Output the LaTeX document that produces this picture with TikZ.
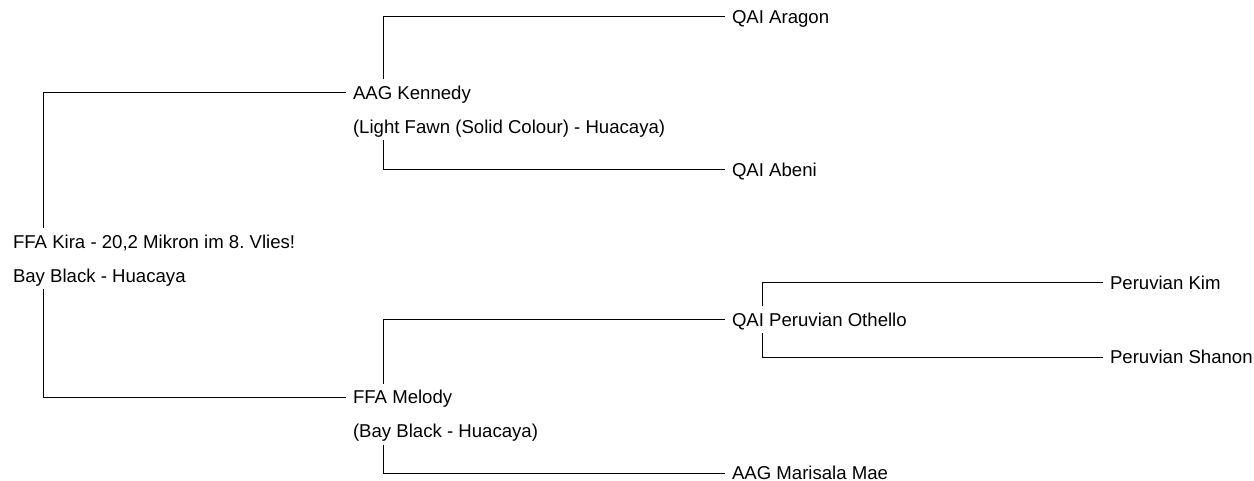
\documentclass[tikz,border=0pt]{standalone}
\usepackage{fontspec}
\setmainfont{Liberation Sans}
\frenchspacing

\begin{document}
\begin{tikzpicture}[x=1pt,y=-1pt,line width=1pt,
  animal/.style={anchor=west,inner sep=0pt,outer sep=7pt,text height=13pt,text depth=0pt,
    font=\fontsize{18.6}{22}\selectfont}]
  \useasboundingbox (0,0) rectangle (1254,481);
  \path
  node[animal] (kira)      at (6,242)    {FFA Kira - 20,2 Mikron im 8. Vlies!}
  node[animal] (kiracol)   at (6,276)    {Bay Black - Huacaya}
  node[animal] (kennedy)   at (346,93)   {AAG Kennedy}
  node[animal] (kennedycol) at (346,127) {(Light Fawn (Solid Colour) - Huacaya)}
  node[animal] (melody)    at (346,397)  {FFA Melody}
  node[animal] (melodycol) at (346,431)  {(Bay Black - Huacaya)}
  node[animal] (aragon)    at (725,17)   {QAI Aragon}
  node[animal] (abeni)     at (725,170)  {QAI Abeni}
  node[animal] (othello)   at (725,320)  {QAI Peruvian Othello}
  node[animal] (marisala)  at (725,473)  {AAG Marisala Mae}
  node[animal] (kim)       at (1103,283) {Peruvian Kim}
  node[animal] (shanon)    at (1103,357) {Peruvian Shanon}
  ;
  \path[draw]
  ([xshift=37pt]kira.north west) |- (kennedy.west)
  ([xshift=37pt]kiracol.south west) |- (melody.west)
  ([xshift=37pt]kennedy.north west) |- (aragon.west)
  ([xshift=37pt]kennedycol.south west) |- (abeni.west)
  ([xshift=37pt]melody.north west) |- (othello.west)
  ([xshift=37pt]melodycol.south west) |- (marisala.west)
  ([xshift=37pt]othello.north west) |- (kim.west)
  ([xshift=37pt]othello.south west) |- (shanon.west)
  ;
\end{tikzpicture}
\end{document}
